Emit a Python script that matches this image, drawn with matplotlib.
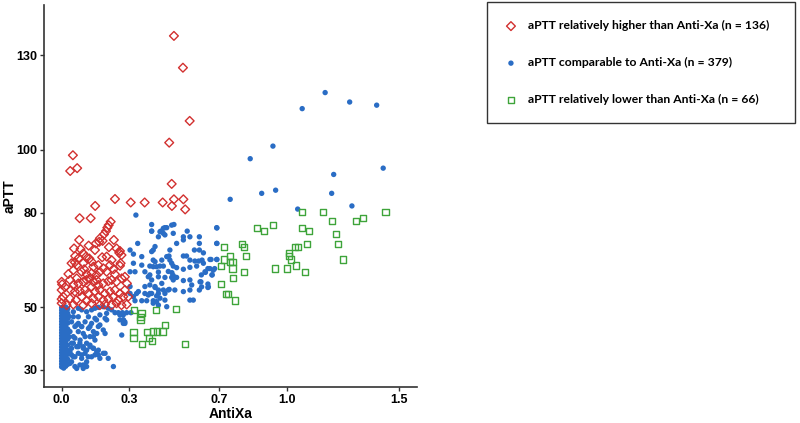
import numpy as np
import matplotlib
matplotlib.use("Agg")
import matplotlib.pyplot as plt

# aPTT vs Anti-Xa, three agreement groups
labels = ["aPTT relatively higher than Anti-Xa (n = 136)",
          "aPTT comparable to Anti-Xa (n = 379)",
          "aPTT relatively lower than Anti-Xa (n = 66)"]

x_ticks = [0.0, 0.3, 0.7, 1.0, 1.5]
y_ticks = [30, 50, 80, 100, 130]

higher_pts = [
    (0.499, 136.1), (0.539, 126.0), (0.569, 109.1), (0.478, 102.2), (0.050, 98.2),
    (0.038, 93.2), (0.069, 94.1), (0.489, 89.1), (0.237, 84.3), (0.307, 83.2),
    (0.369, 83.2), (0.449, 83.2), (0.499, 84.2), (0.541, 84.2), (0.490, 82.1),
    (0.549, 81.0), (0.149, 82.1), (0.080, 78.2), (0.129, 78.2), (0.218, 77.1),
    (0.209, 76.0), (0.203, 75.2), (0.197, 74.1), (0.188, 73.1),
    (0.078, 71.3), (0.170, 71.8), (0.182, 71.0), (0.152, 70.2), (0.167, 70.7), (0.232, 71.3),
    (0.055, 68.6), (0.084, 68.4), (0.148, 68.1), (0.244, 68.6), (0.259, 67.8),
    (0.096, 67.0), (0.108, 66.0), (0.123, 65.4), (0.133, 64.4), (0.096, 63.9),
    (0.200, 66.0), (0.222, 64.9), (0.266, 66.5),
    (0.059, 64.2), (0.067, 63.3), (0.052, 61.7),
    (0.141, 62.8), (0.163, 63.3), (0.185, 62.3), (0.215, 63.3), (0.259, 63.1),
    (0.089, 61.2), (0.111, 60.4), (0.133, 60.7), (0.155, 60.2), (0.170, 61.2),
    (0.200, 61.2), (0.237, 60.4),
    (0.000, 58.0), (0.002, 57.2), (0.000, 55.4),
    (0.037, 58.6), (0.067, 59.1), (0.052, 57.0), (0.074, 57.5), (0.096, 58.0),
    (0.111, 58.6), (0.126, 59.1), (0.141, 58.0), (0.155, 58.6), (0.133, 56.4),
    (0.163, 57.0), (0.185, 57.5), (0.207, 58.2), (0.222, 58.6), (0.244, 58.0), (0.267, 59.1),
    (0.040, 55.4), (0.059, 54.9), (0.081, 55.1), (0.104, 55.4), (0.118, 54.3),
    (0.148, 54.9), (0.170, 55.4), (0.192, 54.3), (0.215, 54.9), (0.237, 55.4),
    (0.259, 54.3), (0.281, 55.4),
    (0.007, 53.3), (0.037, 52.7), (0.064, 52.2), (0.089, 53.3), (0.111, 51.9),
    (0.141, 52.7), (0.163, 53.3), (0.185, 52.2), (0.207, 52.7), (0.229, 53.3),
    (0.252, 52.2), (0.274, 53.3), (0.296, 53.3),
    (0.000, 51.2), (0.022, 50.6), (0.052, 50.8), (0.096, 50.6), (0.133, 51.2),
    (0.170, 50.6), (0.192, 50.8), (0.222, 50.6), (0.244, 51.2), (0.266, 50.6), (0.289, 50.8),
    (0.256, 67.2), (0.262, 63.9), (0.281, 59.6), (0.000, 52.5), (0.044, 63.9),
    (0.120, 69.5), (0.030, 60.5), (0.075, 65.5), (0.180, 65.8), (0.290, 57.5),
    (0.015, 56.3), (0.100, 62.0), (0.230, 62.0), (0.060, 66.2), (0.210, 69.0),
]

comparable_pts = [
    # high values
    (1.171, 118.1), (1.069, 113.0), (1.280, 115.1), (1.400, 114.1), (0.939, 101.1),
    (0.838, 97.1), (1.209, 92.1), (1.429, 94.1), (0.889, 86.1), (0.951, 87.1),
    (1.200, 86.1), (0.749, 84.2), (1.049, 81.1), (1.290, 82.1), (0.690, 75.1),
    (0.690, 70.2), (0.659, 65.1), (0.690, 65.1), (0.680, 62.2), (0.650, 62.2),
    (0.630, 63.9), (0.639, 61.0), (0.621, 60.2), (0.669, 60.2), (0.619, 58.0),
    (0.650, 57.3), (0.650, 56.2), (0.330, 79.2),
    # middle cluster
    (0.400, 76.2), (0.499, 76.2), (0.459, 75.2), (0.467, 75.2), (0.400, 74.1),
    (0.441, 74.1), (0.452, 73.4), (0.558, 74.1), (0.689, 75.2), (0.430, 72.3),
    (0.541, 72.3), (0.541, 71.3), (0.570, 72.3), (0.612, 72.3), (0.511, 70.2),
    (0.612, 70.2), (0.407, 68.1), (0.481, 68.1), (0.590, 68.1), (0.612, 68.1),
    (0.630, 67.2), (0.689, 70.2), (0.689, 65.1), (0.664, 65.1), (0.407, 64.9),
    (0.467, 66.0), (0.477, 66.2), (0.481, 64.9), (0.541, 66.2), (0.555, 66.2),
    (0.570, 64.9), (0.592, 64.6), (0.609, 64.6), (0.624, 64.9), (0.392, 63.0),
    (0.422, 62.8), (0.437, 63.0), (0.452, 63.0), (0.496, 63.0), (0.511, 62.5),
    (0.541, 62.0), (0.570, 62.6), (0.600, 63.0), (0.659, 62.2), (0.674, 61.7),
    (0.637, 61.2), (0.668, 60.2), (0.392, 60.2), (0.430, 61.1), (0.474, 61.3),
    (0.490, 60.9), (0.511, 59.4), (0.541, 58.4), (0.570, 58.6), (0.459, 59.4),
    (0.489, 59.4), (0.496, 60.0), (0.578, 57.0), (0.615, 58.0), (0.622, 56.4),
    (0.652, 56.4), (0.392, 57.0), (0.415, 56.2), (0.430, 55.4), (0.452, 55.4),
    (0.478, 55.6), (0.392, 54.3), (0.422, 53.5), (0.437, 52.8), (0.459, 52.2),
    (0.503, 55.4), (0.541, 54.9), (0.570, 55.4), (0.612, 55.4), (0.407, 51.2),
    (0.430, 50.6), (0.467, 50.1), (0.570, 52.2), (0.585, 52.2), (0.422, 51.7),
    (0.400, 74.1), (0.437, 73.9), (0.452, 75.0), (0.489, 76.0), (0.459, 72.9),
    (0.496, 73.4), (0.338, 70.2), (0.304, 68.1), (0.319, 66.8), (0.356, 66.0),
    (0.319, 63.9), (0.356, 63.3), (0.304, 61.2), (0.326, 61.2), (0.370, 61.2),
    (0.407, 62.8), (0.415, 64.4), (0.445, 64.9), (0.415, 69.2), (0.400, 67.6),
    (0.385, 59.6), (0.400, 58.6), (0.430, 59.6), (0.370, 56.5), (0.415, 56.5),
    (0.445, 57.5), (0.304, 56.5), (0.341, 54.9), (0.385, 53.8), (0.319, 53.3),
    (0.430, 54.3), (0.474, 55.4), (0.496, 58.6), (0.489, 63.9),
    (0.304, 54.3), (0.333, 54.3), (0.370, 54.3), (0.400, 54.3), (0.459, 54.3),
    (0.326, 52.0), (0.356, 52.0), (0.378, 52.0), (0.407, 52.0),
    (0.237, 48.2), (0.252, 48.2), (0.270, 48.2), (0.289, 48.2), (0.308, 48.2),
    (0.274, 45.9), (0.281, 45.3), (0.274, 44.8), (0.281, 44.8), (0.267, 41.1), (0.230, 31.1),
    # low-value spread
    (0.074, 49.6), (0.089, 49.1), (0.111, 48.5), (0.133, 49.1), (0.148, 49.6),
    (0.163, 49.9), (0.185, 50.1), (0.207, 49.6), (0.222, 49.1), (0.119, 46.9),
    (0.148, 46.4), (0.170, 47.5), (0.193, 46.4), (0.074, 46.9), (0.104, 45.3),
    (0.067, 44.3), (0.089, 43.8), (0.119, 43.2), (0.133, 44.8), (0.163, 43.8),
    (0.156, 41.6), (0.141, 40.6), (0.193, 41.6), (0.074, 42.2), (0.104, 40.6),
    (0.059, 40.1), (0.082, 39.5), (0.052, 38.5), (0.074, 37.4), (0.096, 36.9),
    (0.111, 38.5), (0.126, 37.4), (0.141, 36.9), (0.156, 35.8), (0.074, 35.3),
    (0.104, 35.3), (0.059, 34.2), (0.089, 33.7), (0.111, 32.6), (0.133, 34.2),
    (0.163, 34.8), (0.193, 35.3), (0.037, 32.1), (0.067, 30.5), (0.096, 31.6),
    (0.044, 34.8), (0.044, 36.9),
    (0.052, 48.5), (0.052, 46.9), (0.044, 45.3), (0.059, 43.8), (0.037, 42.2),
    (0.052, 40.6), (0.044, 38.5), (0.067, 37.4), (0.037, 35.8), (0.052, 34.2),
    (0.044, 32.6), (0.059, 31.1), (0.081, 31.6), (0.096, 30.5), (0.111, 31.1),
    (0.074, 44.8), (0.089, 43.8), (0.096, 41.6), (0.126, 43.8), (0.141, 42.2),
    (0.126, 40.6), (0.148, 39.5), (0.155, 45.9), (0.170, 44.3), (0.185, 42.7),
    (0.200, 48.0), (0.200, 45.9), (0.081, 38.5), (0.096, 37.4), (0.111, 36.3),
    (0.126, 37.9), (0.141, 36.9), (0.163, 36.3), (0.185, 35.3), (0.089, 34.8),
    (0.118, 34.2), (0.148, 34.8), (0.170, 33.7), (0.207, 33.7),
    (0.259, 47.5), (0.274, 47.5), (0.259, 45.9), (0.274, 45.9),
    # dense column near zero
    (0.000, 31.0), (0.000, 31.9), (0.000, 32.8), (0.000, 33.7), (0.000, 34.6),
    (0.000, 35.5), (0.000, 36.4), (0.000, 37.3), (0.000, 38.2), (0.000, 39.1),
    (0.000, 40.0), (0.000, 40.9), (0.000, 41.8), (0.000, 42.7), (0.000, 43.6),
    (0.000, 44.5), (0.000, 45.4), (0.000, 46.3), (0.000, 47.2), (0.000, 48.1),
    (0.000, 49.0), (0.000, 49.8),
    (0.009, 30.6), (0.009, 31.5), (0.009, 32.4), (0.009, 33.3), (0.009, 34.2),
    (0.009, 35.1), (0.009, 36.0), (0.009, 36.9), (0.009, 37.8), (0.009, 38.7),
    (0.009, 39.6), (0.009, 40.5), (0.009, 41.4), (0.009, 42.3), (0.009, 43.2),
    (0.009, 44.1), (0.009, 45.0), (0.009, 45.9), (0.009, 46.8), (0.009, 47.7),
    (0.009, 48.6), (0.009, 49.5),
    (0.018, 31.2), (0.018, 32.1), (0.018, 33.0), (0.018, 33.9), (0.018, 34.8),
    (0.018, 35.7), (0.018, 36.6), (0.018, 37.5), (0.018, 38.4), (0.018, 39.3),
    (0.018, 40.2), (0.018, 41.1), (0.018, 42.0), (0.018, 42.9), (0.018, 43.8),
    (0.018, 44.7), (0.018, 45.6), (0.018, 46.5), (0.018, 47.4), (0.018, 48.3),
    (0.018, 49.2), (0.018, 50.0),
    (0.027, 31.8), (0.027, 33.4), (0.027, 35.0), (0.027, 37.9), (0.027, 39.8),
    (0.027, 41.2), (0.027, 43.0), (0.027, 44.9), (0.027, 46.4), (0.027, 48.0),
    (0.027, 49.4), (0.033, 36.2), (0.033, 40.5), (0.033, 47.0),
]

lower_pts = [
    (1.069, 80.2), (1.160, 80.2), (1.439, 80.2), (1.200, 77.2), (1.309, 77.2),
    (1.339, 78.2), (0.869, 75.1), (0.899, 74.1), (0.939, 76.1), (1.069, 75.1),
    (1.099, 74.1), (1.219, 73.2), (1.229, 70.1), (1.089, 70.1), (1.038, 69.1),
    (1.049, 69.1), (1.009, 67.1), (1.009, 66.2), (1.019, 65.1), (1.250, 65.1),
    (0.949, 62.2), (1.000, 62.2), (1.040, 63.2), (1.080, 61.1), (0.800, 70.1),
    (0.810, 69.1), (0.720, 69.1), (0.820, 66.2), (0.749, 66.2), (0.749, 64.2),
    (0.759, 64.2), (0.759, 62.2), (0.720, 65.1), (0.709, 63.1), (0.810, 61.1),
    (0.760, 59.1), (0.709, 57.2), (0.730, 54.1), (0.740, 54.1), (0.770, 52.1),
    (0.419, 49.0), (0.508, 49.3), (0.459, 44.2), (0.379, 42.1), (0.406, 42.2),
    (0.425, 42.2), (0.448, 42.2), (0.400, 39.2), (0.549, 38.2), (0.320, 49.0),
    (0.355, 48.2), (0.350, 46.9), (0.350, 46.0), (0.319, 42.1), (0.319, 40.1),
    (0.389, 40.1), (0.358, 38.3),
]

red = "#d2302f"
blue = "#2a6dc5"
green = "#3ea43a"

plt.rcParams["font.family"] = ["Liberation Sans", "DejaVu Sans"]

fig = plt.figure(figsize=(8, 4.23), dpi=100)
ax = fig.add_axes([0.0554, 0.0851, 0.4655, 0.903])

hx, hy = np.array(higher_pts).T
cx, cy = np.array(comparable_pts).T
lx, ly = np.array(lower_pts).T

s_red = ax.scatter(hx, hy, s=20, marker="D", facecolors="none",
                   edgecolors=red, linewidths=1.0, zorder=3)
s_blue = ax.scatter(cx, cy, s=15, marker="o", color=blue,
                    edgecolors="none", zorder=2)
s_green = ax.scatter(lx, ly, s=20, marker="s", facecolors="none",
                     edgecolors=green, linewidths=1.0, zorder=3)

ax.set_xlim(-0.077, 1.578)
ax.set_ylim(24.6, 145.9)
ax.set_xticks(x_ticks)
ax.set_xticklabels([f"{t:.1f}" for t in x_ticks])
ax.set_yticks(y_ticks)

for side in ["top", "right"]:
    ax.spines[side].set_visible(False)
for side in ["left", "bottom"]:
    ax.spines[side].set_color("#333333")
    ax.spines[side].set_linewidth(1.2)

ax.tick_params(axis="both", length=3, width=1, color="#333333",
               labelsize=9, pad=2)
for lab in ax.get_xticklabels() + ax.get_yticklabels():
    lab.set_fontweight("bold")

ax.set_xlabel("AntiXa", fontsize=10, fontweight="bold", labelpad=1)
ax.set_ylabel("aPTT", fontsize=10, fontweight="bold")
# y label sits close to the left edge of the picture
ax.yaxis.set_label_coords(-0.074, 0.5)

leg = fig.legend([s_red, s_blue, s_green], labels,
                 loc="upper left", bbox_to_anchor=(0.609, 0.0, 0.385, 0.995),
                 mode="expand", borderaxespad=0, borderpad=1.5,
                 labelspacing=2.15, handlelength=0.93, handletextpad=0.93,
                 fancybox=False, edgecolor="black",
                 prop={"family": "Lato", "weight": "bold", "size": 8.7})
leg.get_frame().set_linewidth(1.0)

fig.savefig("out.png", dpi=100)
